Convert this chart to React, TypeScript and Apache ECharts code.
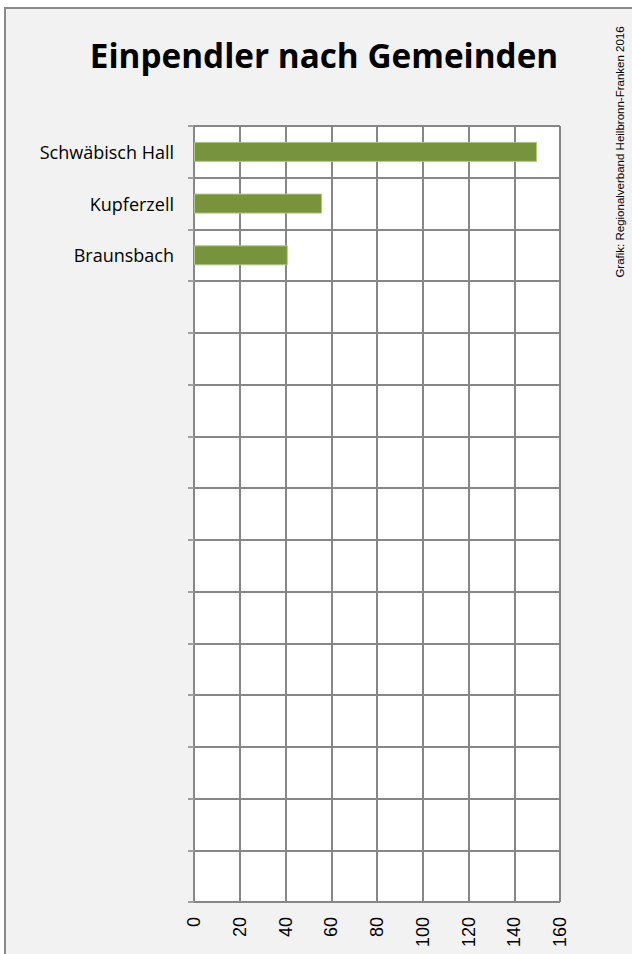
import React, { useEffect, useRef } from "react";
import * as echarts from "echarts";

const TITLE = "Einpendler nach Gemeinden";
const SOURCE = "Grafik: Regionalverband Heilbronn-Franken 2016";
const categories = ["Schwäbisch Hall", "Kupferzell", "Braunsbach"];
const values = [150, 56, 41];
const ROWS = 15;
const xTicks = [0, 20, 40, 60, 80, 100, 120, 140, 160];

export default function App() {
  const ref = useRef<HTMLDivElement>(null);
  useEffect(() => {
    if (!ref.current) return;
    const chart = echarts.init(ref.current, undefined, { renderer: "svg" });
    const axisData: string[] = [];
    for (let i = 0; i < ROWS; i++) axisData.push(i < categories.length ? categories[i] : "");
    const gridColor = "#878787";
    chart.setOption({
      animation: false,
      backgroundColor: "#ffffff",
      graphic: [
        {
          type: "rect",
          z: -100,
          silent: true,
          shape: { x: 5, y: 8, width: 700, height: 1000 },
          style: { fill: "#f2f2f2", stroke: "#8a8a8a", lineWidth: 2 },
        },
        {
          type: "text",
          x: 324,
          y: 55,
          style: {
            text: TITLE,
            font: "bold 33.3px 'Open Sans'",
            fill: "#000",
            align: "center",
            verticalAlign: "middle",
          },
        },
        {
          type: "text",
          x: 620,
          y: 152,
          rotation: Math.PI / 2,
          style: {
            text: SOURCE,
            font: "11.5px 'Liberation Sans'",
            fill: "#000",
            align: "center",
            verticalAlign: "middle",
          },
        },
      ],
      grid: {
        left: 194,
        right: 72,
        top: 126,
        bottom: 52,
        show: true,
        backgroundColor: "#ffffff",
        borderWidth: 0,
      },
      xAxis: {
        type: "value",
        min: xTicks[0],
        max: xTicks[xTicks.length - 1],
        interval: xTicks[1] - xTicks[0],
        axisLine: { show: false },
        axisTick: { show: false },
        splitLine: { show: true, lineStyle: { color: gridColor, width: 2 } },
        axisLabel: {
          rotate: 90,
          margin: 15,
          fontSize: 18,
          fontFamily: "Liberation Sans",
          color: "#000",
        },
      },
      yAxis: {
        type: "category",
        inverse: true,
        data: axisData,
        axisLine: { show: true, lineStyle: { color: gridColor, width: 2 } },
        axisTick: { show: true, length: 6, interval: 0, lineStyle: { color: "#a0a0a0", width: 2 } },
        splitLine: { show: true, interval: 0, lineStyle: { color: gridColor, width: 2 } },
        axisLabel: {
          interval: 0,
          margin: 20,
          fontSize: 18,
          fontFamily: "Open Sans",
          color: "#000",
        },
      },
      series: [
        {
          type: "bar",
          data: values,
          barWidth: 20,
          itemStyle: { color: "#77933c", borderColor: "#b0c785", borderWidth: 1 },
        },
      ],
    });
    return () => chart.dispose();
  }, []);
  return (
    <div
      ref={ref}
      style={{ position: "fixed", left: 0, top: 0, width: 632, height: 954 }}
    />
  );
}
